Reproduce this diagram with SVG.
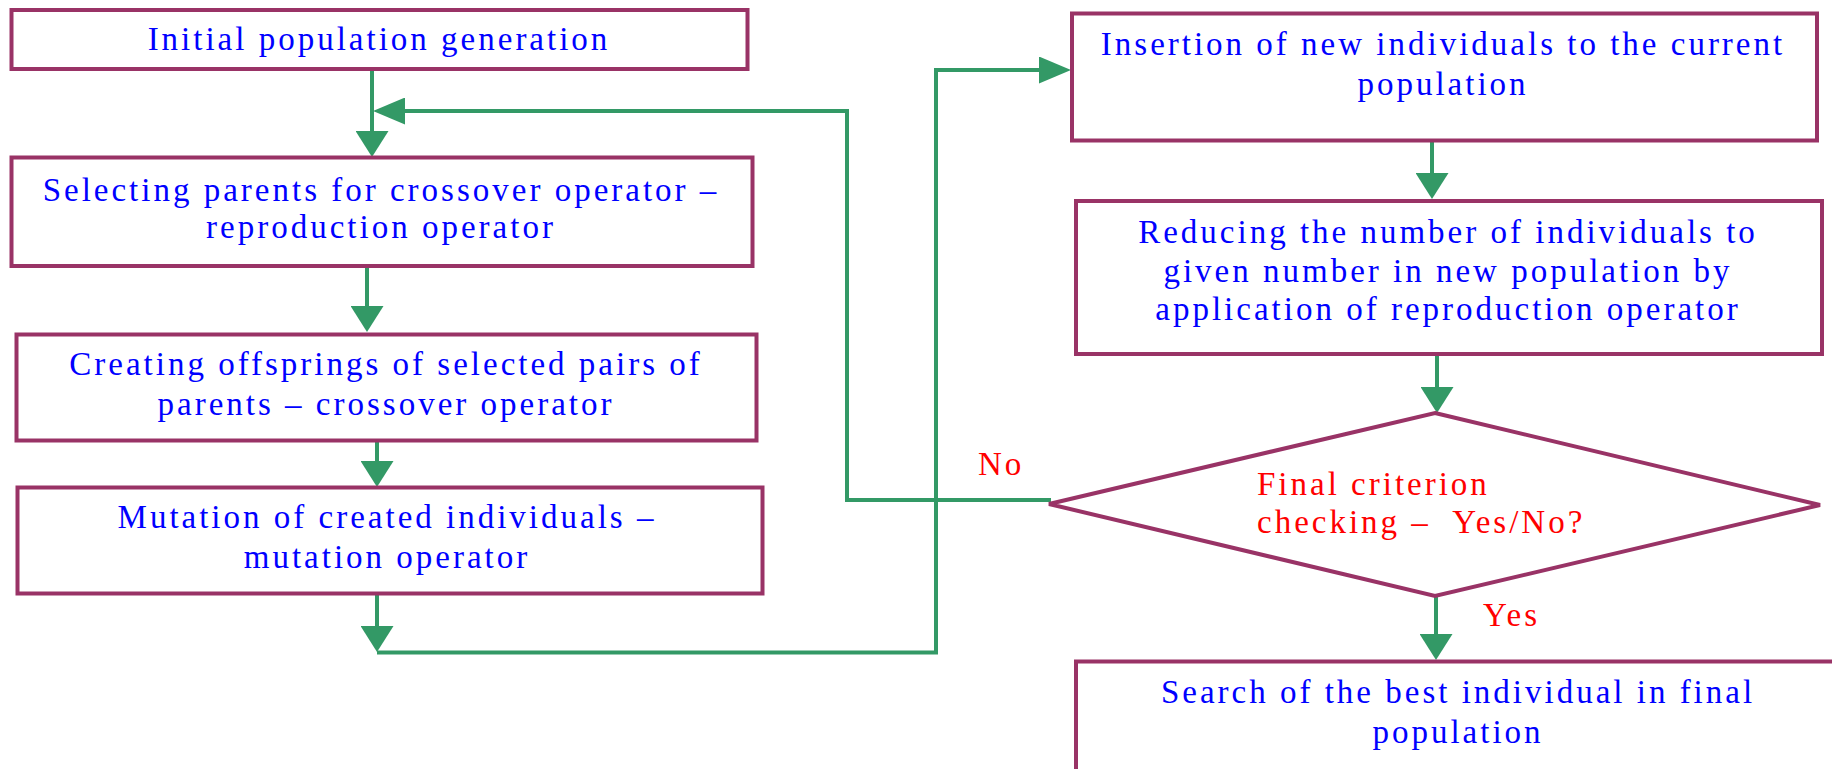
<svg xmlns="http://www.w3.org/2000/svg" width="1832" height="769" viewBox="0 0 1832 769">
  <style>
    .box { fill: #ffffff; stroke: #993366; stroke-width: 4; }
    .wire { fill: none; stroke: #339966; stroke-width: 4; }
    .lbl { font-family: "Liberation Serif", "Times New Roman", serif; font-size: 33px; letter-spacing: 3px; fill: #0000ff; }
    .mid { text-anchor: middle; }
    .red { fill: #ff0000; }
  </style>
  <defs>
    <!-- arrowheads: vertical runs use a wider, shorter head than horizontal runs -->
    <marker id="headV" markerUnits="userSpaceOnUse" viewBox="0 0 26 33" markerWidth="26" markerHeight="33" refX="16" refY="16.5" orient="auto">
      <path d="M0,0 L26,16.5 L0,33 Z" fill="#339966"/>
    </marker>
    <marker id="headH" markerUnits="userSpaceOnUse" viewBox="0 0 32 27" markerWidth="32" markerHeight="27" refX="22" refY="13.5" orient="auto">
      <path d="M0,0 L32,13.5 L0,27 Z" fill="#339966"/>
    </marker>
  </defs>

  <g id="connectors">
    <path class="wire" d="M372,71 V147" marker-end="url(#headV)"/>
    <path class="wire" d="M1051,500 H847 V111 H383" marker-end="url(#headH)"/>
    <path class="wire" d="M367,268 V322" marker-end="url(#headV)"/>
    <path class="wire" d="M377,442 V477" marker-end="url(#headV)"/>
    <path class="wire" d="M377,595 V642" marker-end="url(#headV)"/>
    <path class="wire" d="M377,652.5 H936 V70 H1061" marker-end="url(#headH)"/>
    <path class="wire" d="M1432,141 V189" marker-end="url(#headV)"/>
    <path class="wire" d="M1437,355 V403" marker-end="url(#headV)"/>
    <path class="wire" d="M1436,596 V650" marker-end="url(#headV)"/>
  </g>

  <g id="init">
    <rect class="box" x="11.5" y="10" width="736" height="59"/>
    <text class="lbl mid" x="379" y="49.5">Initial population generation</text>
  </g>

  <g id="select">
    <rect class="box" x="11.5" y="157.5" width="741" height="108.5"/>
    <text class="lbl mid" x="381" y="200.5">Selecting parents for crossover operator –</text>
    <text class="lbl mid" x="381" y="238">reproduction operator</text>
  </g>

  <g id="crossover">
    <rect class="box" x="16.5" y="334.5" width="740" height="106"/>
    <text class="lbl mid" x="386" y="375">Creating offsprings of selected pairs of</text>
    <text class="lbl mid" x="386" y="415">parents – crossover operator</text>
  </g>

  <g id="mutation">
    <rect class="box" x="17.5" y="487.5" width="745" height="106"/>
    <text class="lbl mid" x="387" y="528">Mutation of created individuals –</text>
    <text class="lbl mid" x="387" y="568">mutation operator</text>
  </g>

  <g id="insertion">
    <rect class="box" x="1072" y="13.5" width="745" height="127"/>
    <text class="lbl mid" x="1443" y="55">Insertion of new individuals to the current</text>
    <text class="lbl mid" x="1443" y="95">population</text>
  </g>

  <g id="reduction">
    <rect class="box" x="1076" y="201" width="746" height="153"/>
    <text class="lbl mid" x="1448" y="243">Reducing the number of individuals to</text>
    <text class="lbl mid" x="1448" y="281.5">given number in new population by</text>
    <text class="lbl mid" x="1448" y="320">application of reproduction operator</text>
  </g>

  <g id="criterion">
    <polygon class="box" points="1435,413 1820,505 1435,596 1049,504"/>
    <text class="lbl red" x="1257" y="495">Final criterion</text>
    <text class="lbl red" x="1257" y="533">checking –&#160; Yes/No?</text>
  </g>

  <g id="labels">
    <text class="lbl red" x="978" y="475">No</text>
    <text class="lbl red" x="1483" y="626">Yes</text>
  </g>

  <g id="best">
    <rect class="box" x="1076" y="661.5" width="800" height="200"/>
    <text class="lbl mid" x="1458" y="703">Search of the best individual in final</text>
    <text class="lbl mid" x="1458" y="743">population</text>
  </g>
</svg>
